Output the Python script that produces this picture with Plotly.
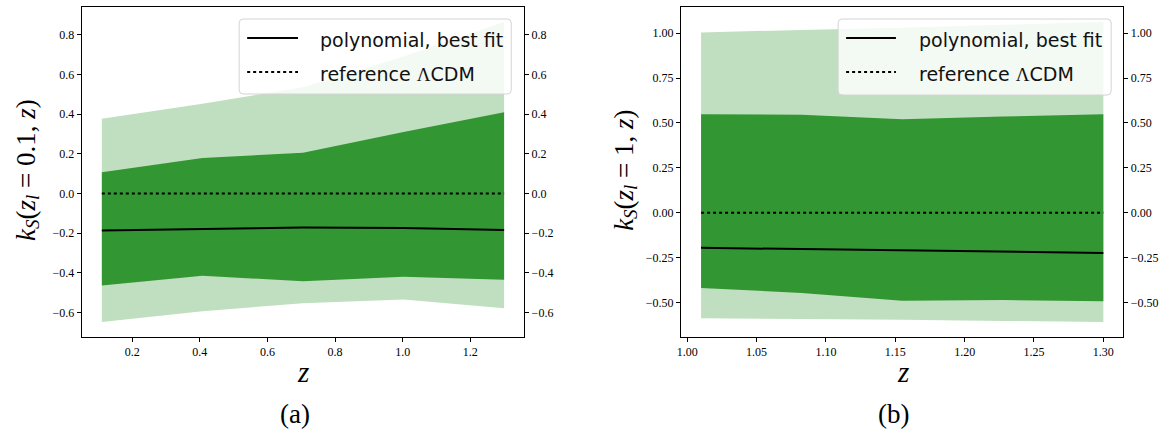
import plotly.graph_objects as go

# ---- panel (a): lens at z_l = 0.1 ----
z_a = [0.11, 0.4075, 0.705, 1.0025, 1.30]
best_a = [-0.187, -0.179, -0.172, -0.174, -0.184]
up1_a = [0.107, 0.178, 0.205, 0.310, 0.409]
lo1_a = [-0.464, -0.415, -0.442, -0.420, -0.435]
up2_a = [0.377, 0.452, 0.535, 0.690, 0.864]
lo2_a = [-0.648, -0.594, -0.553, -0.534, -0.579]
ref_a = [0.0, 0.0, 0.0, 0.0, 0.0]
yt_a = [-0.6, -0.4, -0.2, 0.0, 0.2, 0.4, 0.6, 0.8]
xt_a = [0.2, 0.4, 0.6, 0.8, 1.0, 1.2]

# ---- panel (b): lens at z_l = 1 ----
z_b = [1.01, 1.0825, 1.155, 1.2275, 1.30]
best_b = [-0.196, -0.203, -0.210, -0.217, -0.224]
up1_b = [0.548, 0.545, 0.521, 0.535, 0.548]
lo1_b = [-0.420, -0.447, -0.490, -0.487, -0.493]
up2_b = [1.004, 1.018, 1.030, 1.046, 1.062]
lo2_b = [-0.588, -0.592, -0.597, -0.603, -0.609]
ref_b = [0.0, 0.0, 0.0, 0.0, 0.0]
yt_b = [-0.5, -0.25, 0.0, 0.25, 0.5, 0.75, 1.0]
xt_b = [1.00, 1.05, 1.10, 1.15, 1.20, 1.25, 1.30]

legend_labels = ["polynomial, best fit",
                 "reference <span style='font-family:Liberation Serif'>Λ</span>CDM"]

LIGHT = "rgb(192,223,192)"
DARK = "rgb(50,150,50)"
SERIF = "Liberation Serif"
SANS = "DejaVu Sans"

W, H = 1167, 429


def px(x):
    return x / W


def py(y):
    return 1 - y / H


def padded(vals, frac=0.05):
    lo, hi = min(vals), max(vals)
    span = hi - lo
    return [lo - frac * span, hi + frac * span]


def band(x, upper, lower):
    return x + x[::-1], upper + lower[::-1]


def sub(s):
    # lowered, smaller italic glyph
    return f"<span style='font-size:70%;baseline-shift:-22%;font-style:italic'>{s}</span>"


def kappa_label(zl):
    return (f"<i>k</i>{sub('S')}(<i>z</i>{sub('l')} = {zl}, <i>z</i>)")


fig = go.Figure()

panels = [
    dict(z=z_a, best=best_a, up1=up1_a, lo1=lo1_a, up2=up2_a, lo2=lo2_a, ref=ref_a,
         xa="x", ya="y"),
    dict(z=z_b, best=best_b, up1=up1_b, lo1=lo1_b, up2=up2_b, lo2=lo2_b, ref=ref_b,
         xa="x2", ya="y2"),
]

for p in panels:
    bx, by = band(p["z"], p["up2"], p["lo2"])
    fig.add_trace(go.Scatter(x=bx, y=by, fill="toself", fillcolor=LIGHT, mode="none",
                             xaxis=p["xa"], yaxis=p["ya"], showlegend=False, hoverinfo="skip"))
    bx, by = band(p["z"], p["up1"], p["lo1"])
    fig.add_trace(go.Scatter(x=bx, y=by, fill="toself", fillcolor=DARK, mode="none",
                             xaxis=p["xa"], yaxis=p["ya"], showlegend=False, hoverinfo="skip"))
    fig.add_trace(go.Scatter(x=p["z"], y=p["best"], mode="lines",
                             line=dict(color="black", width=2),
                             name="polynomial, best fit", showlegend=False,
                             xaxis=p["xa"], yaxis=p["ya"]))
    fig.add_trace(go.Scatter(x=p["z"], y=p["ref"], mode="lines",
                             line=dict(color="black", width=2, dash="dot"),
                             name="reference ΛCDM", showlegend=False,
                             xaxis=p["xa"], yaxis=p["ya"]))

# right-hand twin axes carry the same ticks
fig.add_trace(go.Scatter(x=[None], y=[None], xaxis="x", yaxis="y3", showlegend=False))
fig.add_trace(go.Scatter(x=[None], y=[None], xaxis="x2", yaxis="y4", showlegend=False))

xr_a = padded(z_a)
yr_a = padded(up2_a + lo2_a)
xr_b = padded(z_b)
yr_b = padded(up2_b + lo2_b)

top, bottom = py(7), py(337)
dom_a = [px(78), px(522)]
dom_b = [px(679.3), px(1123.3)]

tickfont = dict(family=SERIF, size=12, color="black")
common_x = dict(showline=True, linecolor="black", linewidth=1, mirror=True,
                ticks="outside", ticklen=4, tickwidth=1, tickcolor="black",
                showgrid=False, zeroline=False, tickfont=tickfont)
common_y = dict(showline=True, linecolor="black", linewidth=1,
                ticks="outside", ticklen=4, tickwidth=1, tickcolor="black",
                showgrid=False, zeroline=False, tickfont=tickfont)

fig.update_layout(
    width=W, height=H,
    margin=dict(l=0, r=0, t=0, b=0),
    paper_bgcolor="white", plot_bgcolor="white",
    showlegend=False,
    xaxis=dict(domain=dom_a, anchor="y", range=xr_a, tickvals=xt_a, tickformat=".1f", **common_x),
    yaxis=dict(domain=[bottom, top], anchor="x", range=yr_a, tickvals=yt_a, tickformat=".1f", **common_y),
    yaxis3=dict(overlaying="y", side="right", anchor="x", range=yr_a, tickvals=yt_a,
                tickformat=".1f", **common_y),
    xaxis2=dict(domain=dom_b, anchor="y2", range=xr_b, tickvals=xt_b, tickformat=".2f", **common_x),
    yaxis2=dict(domain=[bottom, top], anchor="x2", range=yr_b, tickvals=yt_b, tickformat=".2f", **common_y),
    yaxis4=dict(overlaying="y2", side="right", anchor="x2", range=yr_b, tickvals=yt_b,
                tickformat=".2f", **common_y),
)


# ---- legend boxes (rounded, semi-transparent) drawn as shapes + text ----
def rounded_box(x0, y0, x1, y1, r=4):
    pts = [
        f"M {px(x0 + r)},{py(y0)}",
        f"L {px(x1 - r)},{py(y0)}",
        f"Q {px(x1)},{py(y0)} {px(x1)},{py(y0 + r)}",
        f"L {px(x1)},{py(y1 - r)}",
        f"Q {px(x1)},{py(y1)} {px(x1 - r)},{py(y1)}",
        f"L {px(x0 + r)},{py(y1)}",
        f"Q {px(x0)},{py(y1)} {px(x0)},{py(y1 - r)}",
        f"L {px(x0)},{py(y0 + r)}",
        f"Q {px(x0)},{py(y0)} {px(x0 + r)},{py(y0)}",
        "Z",
    ]
    return " ".join(pts)


shapes = []
annotations = []
legend_boxes = [
    dict(x0=236, x1=509, y0=19, y1=94, lx0=244, lx1=295, tx=315),
    dict(x0=837, x1=1111, y0=19, y1=95, lx0=845, lx1=895, tx=916),
]
row_y = [38, 72]
for b in legend_boxes:
    shapes.append(dict(type="path", path=rounded_box(b["x0"], b["y0"], b["x1"], b["y1"]),
                       xref="paper", yref="paper", fillcolor="rgba(255,255,255,0.8)",
                       line=dict(color="#d4d4d4", width=1), layer="above"))
    for i, (ry, dash) in enumerate(zip(row_y, ["solid", "dot"])):
        shapes.append(dict(type="line", xref="paper", yref="paper",
                           x0=px(b["lx0"]), x1=px(b["lx1"]), y0=py(ry), y1=py(ry),
                           line=dict(color="black", width=2, dash=dash), layer="above"))
        annotations.append(dict(text=legend_labels[i], x=px(b["tx"]), y=py(ry + 1.5),
                                xanchor="left", yanchor="middle",
                                font=dict(family=SANS, size=19, color="#111")))

ylab_font = dict(family=SERIF, size=27, color="black")
annotations += [
    dict(text=kappa_label("0.1"), x=px(23), y=py(170), textangle=-90, font=ylab_font,
         xanchor="center", yanchor="middle"),
    dict(text=kappa_label("1"), x=px(623), y=py(170), textangle=-90, font=ylab_font,
         xanchor="center", yanchor="middle"),
    dict(text="<i>z</i>", x=px(300), y=py(372), xanchor="center", yanchor="middle",
         font=dict(family=SERIF, size=29, color="black")),
    dict(text="<i>z</i>", x=px(902), y=py(372), xanchor="center", yanchor="middle",
         font=dict(family=SERIF, size=29, color="black")),
    dict(text="(a)", x=px(292), y=py(414), xanchor="center", yanchor="middle",
         font=dict(family=SERIF, size=27, color="black")),
    dict(text="(b)", x=px(893), y=py(414), xanchor="center", yanchor="middle",
         font=dict(family=SERIF, size=27, color="black")),
]
for a in annotations:
    a.update(xref="paper", yref="paper", showarrow=False)

fig.update_layout(shapes=shapes, annotations=annotations)

fig.write_html("out.html")
